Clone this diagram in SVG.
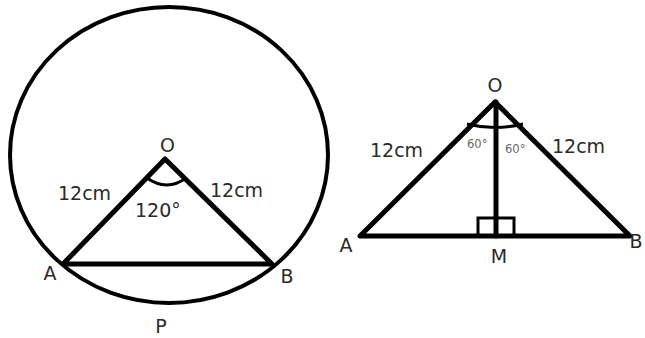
<svg xmlns="http://www.w3.org/2000/svg" width="645" height="338" viewBox="0 0 645 338">
<style>
.ln{stroke:#000;stroke-width:5;fill:none;stroke-linecap:round;stroke-linejoin:round}
.cl{stroke:#000;stroke-width:4;fill:none}
.ar{stroke:#000;stroke-width:3;fill:none}
.t{font-family:"DejaVu Sans",Verdana,sans-serif;font-size:19px;fill:#2a2a2a}
.s{font-family:"DejaVu Sans",Verdana,sans-serif;font-size:11.5px;fill:#666}
</style>
<rect width="645" height="338" fill="#fff"/>
<g id="left-figure">
<g id="circle"><ellipse class="cl" cx="169" cy="155" rx="159" ry="148"/></g>
<g id="connectors-left">
<path class="ln" d="M63,264 L165,159 L272,264 Z"/>
<path class="ar" d="M147,178 Q167,192 186,178"/>
</g>
<g id="labels-left">
<text class="t" x="167.5" y="152" text-anchor="middle">O</text>
<text class="t" x="58" y="200">12cm</text>
<text class="t" x="210" y="197">12cm</text>
<text class="t" x="135" y="217">120°</text>
<text class="t" x="50" y="280" text-anchor="middle">A</text>
<text class="t" x="287" y="283" text-anchor="middle">B</text>
<text class="t" x="161" y="333" text-anchor="middle">P</text>
</g>
</g>
<g id="right-figure">
<g id="connectors-right">
<path class="ln" d="M360,236 L495,102 L630,236 Z"/>
<path class="ln" d="M496,102 L496,236"/>
<path class="ar" d="M478,236 V218 H514 V236"/>
<path class="ar" d="M467,124 Q495,131 523,124"/>
</g>
<g id="labels-right">
<text class="t" x="495" y="92" text-anchor="middle">O</text>
<text class="t" x="370" y="157">12cm</text>
<text class="t" x="552" y="153">12cm</text>
<text class="s" x="467" y="148">60°</text>
<text class="s" x="505" y="153">60°</text>
<text class="t" x="346" y="252" text-anchor="middle">A</text>
<text class="t" x="636" y="248" text-anchor="middle">B</text>
<text class="t" x="499" y="263" text-anchor="middle">M</text>
</g>
</g>
</svg>
